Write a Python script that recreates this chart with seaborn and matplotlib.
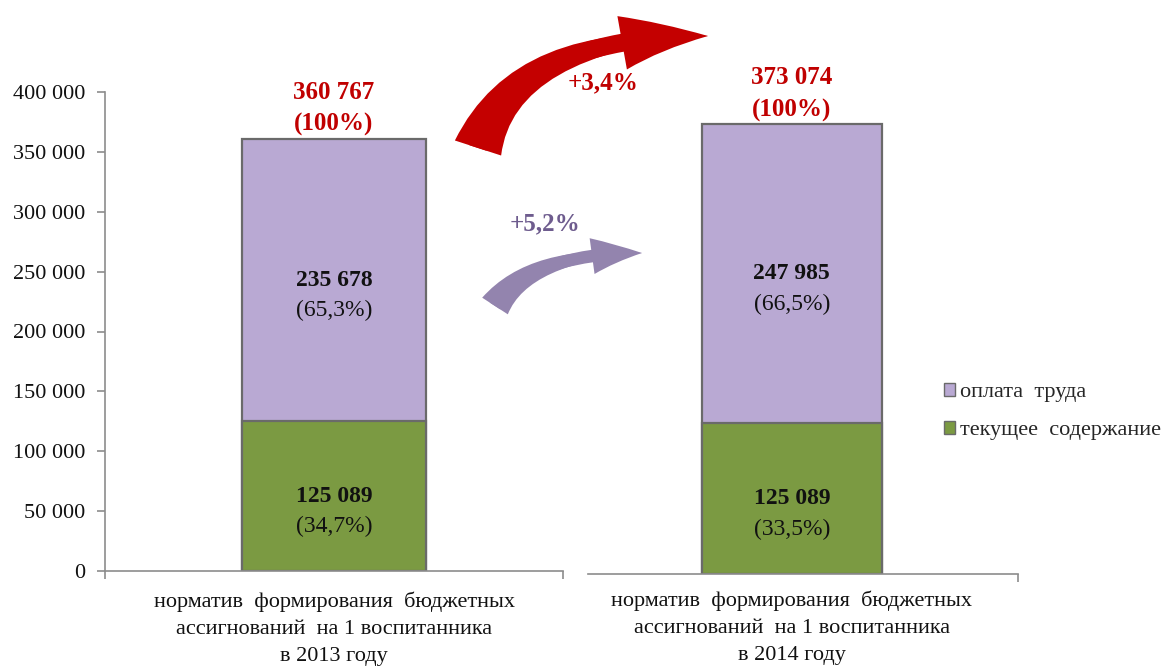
import numpy as np
import pandas as pd
import matplotlib
matplotlib.use("Agg")
import matplotlib.pyplot as plt
from matplotlib.patches import FancyArrowPatch, Patch
from matplotlib.ticker import FuncFormatter, FixedLocator
import seaborn as sns

# ---------------- data ----------------
categories = [
    "норматив  формирования  бюджетных\nассигнований  на 1 воспитанника\nв 2013 году",
    "норматив  формирования  бюджетных\nассигнований  на 1 воспитанника\nв 2014 году",
]
labor = [235678, 247985]            # оплата труда
maintenance = [125089, 125089]      # текущее содержание
totals = [360767, 373074]
labor_share = ["(65,3%)", "(66,5%)"]
maint_share = ["(34,7%)", "(33,5%)"]
total_share = ["(100%)", "(100%)"]
series_names = ["оплата  труда", "текущее  содержание"]
growth_total = "+3,4%"
growth_labor = "+5,2%"
yticks = [0, 50000, 100000, 150000, 200000, 250000, 300000, 350000, 400000]

# ---------------- style ----------------
sns.set_theme(style="white")
plt.rcParams["font.family"] = ["Liberation Serif", "DejaVu Serif"]

PURPLE = "#B9A9D3"
GREEN = "#7B9A42"
EDGE = "#6a6a6a"
RED = "#C00000"
AXIS = "#8c8c8c"

W, H = 1165, 668
fig = plt.figure(figsize=(W / 100, H / 100), dpi=100)
fig.patch.set_facecolor("white")

def fx(px):
    return px / W

def fy(py):
    return 1 - py / H

# axes rectangles (pixels): left, top(y=400000), right, bottom(y=0)
ax1 = fig.add_axes([fx(105), fy(571), fx(563) - fx(105), fy(92) - fy(571)])
ax2 = fig.add_axes([fx(588), fy(574), fx(1018) - fx(588), fy(92) - fy(574)])

xlims = [(-0.5, 0.5), (-0.474, 0.526)]
widths = [0.40, 0.42]
label_pads = [15, 12]

for i, ax in enumerate([ax1, ax2]):
    df_tot = pd.DataFrame({"cat": [categories[i]], "value": [totals[i]]})
    df_mnt = pd.DataFrame({"cat": [categories[i]], "value": [maintenance[i]]})
    sns.barplot(data=df_tot, x="cat", y="value", color=PURPLE, saturation=1,
                width=widths[i], edgecolor=EDGE, linewidth=1.6, ax=ax, errorbar=None)
    sns.barplot(data=df_mnt, x="cat", y="value", color=GREEN, saturation=1,
                width=widths[i], edgecolor=EDGE, linewidth=1.6, ax=ax, errorbar=None)
    ax.set_ylim(0, 400000)
    ax.set_xlim(*xlims[i])
    ax.set_xlabel("")
    ax.set_ylabel("")
    ax.set_facecolor("none")

    for s in ["top", "right"]:
        ax.spines[s].set_visible(False)
    ax.spines["bottom"].set_color(AXIS)
    ax.spines["bottom"].set_linewidth(1.2)

    ax.tick_params(axis="x", which="major", length=0, pad=label_pads[i], labelsize=16,
                   labelcolor="#111111")
    for lab in ax.get_xticklabels():
        lab.set_linespacing(1.55)
        lab.set_ha("center")

    # category boundary ticks
    if i == 0:
        ax.xaxis.set_minor_locator(FixedLocator(list(xlims[i])))
    else:
        ax.xaxis.set_minor_locator(FixedLocator([xlims[i][1]]))
    ax.tick_params(axis="x", which="minor", length=6, width=1.2, color=AXIS,
                   direction="out", bottom=True)

    p_tot = ax.patches[0]
    xc = p_tot.get_x() + p_tot.get_width() / 2

    # labor segment labels
    mid_l = maintenance[i] + labor[i] / 2
    ax.annotate(f"{labor[i]:,}".replace(",", " "), (xc, mid_l), ha="center", va="center",
                fontsize=17, fontweight="bold", color="#111111")
    ax.annotate(labor_share[i], (xc, mid_l), xytext=(0, -22), textcoords="offset points",
                ha="center", va="center", fontsize=17, color="#111111")
    # maintenance segment labels
    mid_m = maintenance[i] / 2
    ax.annotate(f"{maintenance[i]:,}".replace(",", " "), (xc, mid_m), ha="center", va="center",
                fontsize=17, fontweight="bold", color="#111111")
    ax.annotate(maint_share[i], (xc, mid_m), xytext=(0, -22), textcoords="offset points",
                ha="center", va="center", fontsize=17, color="#111111")
    # total label
    ax.annotate(f"{totals[i]:,}".replace(",", " ") + "\n" + total_share[i],
                (xc, totals[i]), xytext=(0, 2), textcoords="offset points",
                ha="center", va="bottom", fontsize=18, fontweight="bold",
                color=RED, linespacing=1.5)

# left y axis
ax1.spines["left"].set_color(AXIS)
ax1.spines["left"].set_linewidth(1.2)
ax1.set_yticks(yticks)
ax1.yaxis.set_major_formatter(FuncFormatter(lambda v, p: f"{v:,.0f}".replace(",", " ")))
ax1.tick_params(axis="y", length=6, width=1.2, color=AXIS, direction="out",
                left=True, pad=8, labelsize=16, labelcolor="#111111")

# right axes: no y axis
ax2.spines["left"].set_visible(False)
ax2.set_yticks([])

# ---------------- growth arrows (decoration) ----------------
def curved_arrow(start, end, angle_a, color, head_len, head_w, shaft_w, tail_w):
    cs = f"angle3,angleA={angle_a},angleB=0"
    body = FancyArrowPatch(
        (fx(start[0]), fy(start[1])), (fx(end[0]), fy(end[1])),
        transform=fig.transFigure, connectionstyle=cs,
        arrowstyle=f"simple,head_length={head_len},head_width={head_w},tail_width={shaft_w}",
        mutation_scale=20, facecolor=color, edgecolor="none", zorder=5,
        shrinkA=0, shrinkB=0)
    wedge = FancyArrowPatch(
        (fx(start[0]), fy(start[1])), (fx(end[0]), fy(end[1])),
        transform=fig.transFigure, connectionstyle=cs,
        arrowstyle=f"wedge,tail_width={tail_w},shrink_factor=0.5",
        mutation_scale=20, facecolor=color, edgecolor="none", zorder=5,
        shrinkA=0, shrinkB=0)
    fig.add_artist(wedge)
    fig.add_artist(body)

curved_arrow((478, 148), (708, 36), 72, "#C40000", 3.1, 1.95, 0.65, 1.75)
curved_arrow((495, 306), (642, 253), 57, "#9384AE", 1.8, 1.3, 0.45, 1.1)

fig.text(fx(603), fy(83), growth_total, ha="center", va="center", fontsize=18,
         fontweight="bold", color=RED)
fig.text(fx(545), fy(224), growth_labor, ha="center", va="center", fontsize=18,
         fontweight="bold", color="#6E5C8E")

# ---------------- legend ----------------
handles = [Patch(facecolor=PURPLE, edgecolor=EDGE, linewidth=1.0),
           Patch(facecolor=GREEN, edgecolor=EDGE, linewidth=1.0)]
fig.legend(handles, series_names, loc="upper left",
           bbox_to_anchor=(fx(944), fy(383)), frameon=False, fontsize=16,
           handlelength=0.5, handleheight=0.5, handletextpad=0.2,
           labelspacing=0.85, borderpad=0, borderaxespad=0)

fig.savefig("out.png", dpi=100, facecolor="white")
